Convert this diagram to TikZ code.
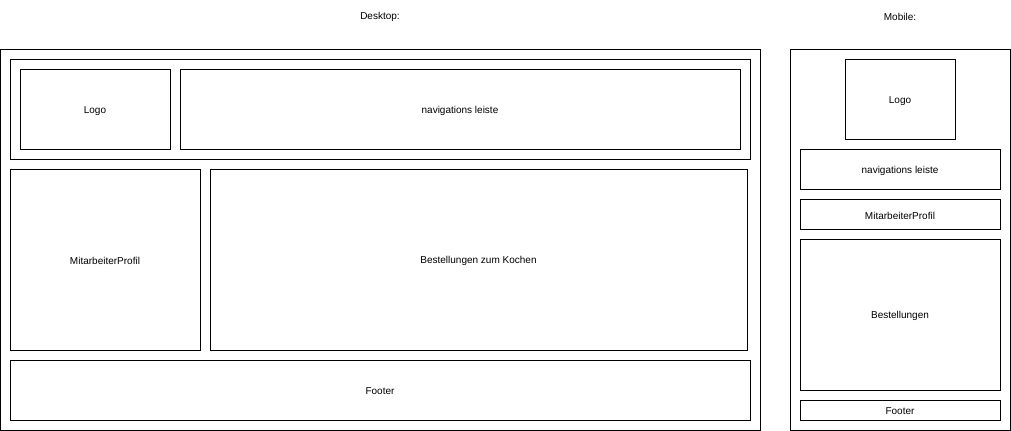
\documentclass[tikz,border=0pt]{standalone}
\usepackage{fontspec}
\setmainfont{Liberation Sans}
\tikzset{rahmen/.style={draw, line width=.75pt}}
\tikzset{beschr/.style={font=\fontsize{7.5pt}{9pt}\selectfont, inner sep=1pt}}

\begin{document}
\begin{tikzpicture}[x=.75pt, y=-.75pt]
    \useasboundingbox(0, 0)rectangle(1011, 431);
    % Desktop
    \node[beschr](tdesktop) at(380, 17){Desktop:};
    \draw[rahmen](0, 50)rectangle(760, 430);
    \draw[rahmen](10, 60)rectangle(750, 160);
    \draw[rahmen](20, 70)rectangle(170, 150);
    \node[beschr](dlogo) at(95, 111){Logo};
    \draw[rahmen](180, 70)rectangle(740, 150);
    \node[beschr](dnav) at(460, 111){navigations leiste};
    \draw[rahmen](10, 170)rectangle(200, 350);
    \node[beschr](dprofil) at(105, 261){MitarbeiterProfil};
    \draw[rahmen](210, 170)rectangle(747, 350);
    \node[beschr](dbest) at(478.5, 261){Bestellungen zum Kochen};
    \draw[rahmen](10, 360)rectangle(750, 420);
    \node[beschr](dfooter) at(380, 391){Footer};
    % Mobile
    \node[beschr](tmobile) at(900, 17){Mobile:};
    \draw[rahmen](790, 50)rectangle(1010, 430);
    \draw[rahmen](845, 60)rectangle(955, 140);
    \node[beschr](mlogo) at(900, 101){Logo};
    \draw[rahmen](800, 150)rectangle(1000, 190);
    \node[beschr](mnav) at(900, 171){navigations leiste};
    \draw[rahmen](800, 200)rectangle(1000, 230);
    \node[beschr](mprofil) at(900, 216){MitarbeiterProfil};
    \draw[rahmen](800, 240)rectangle(1000, 390);
    \node[beschr](mbest) at(900, 316){Bestellungen};
    \draw[rahmen](800, 400)rectangle(1000, 420);
    \node[beschr](mfooter) at(900, 411){Footer};
\end{tikzpicture}
\end{document}
